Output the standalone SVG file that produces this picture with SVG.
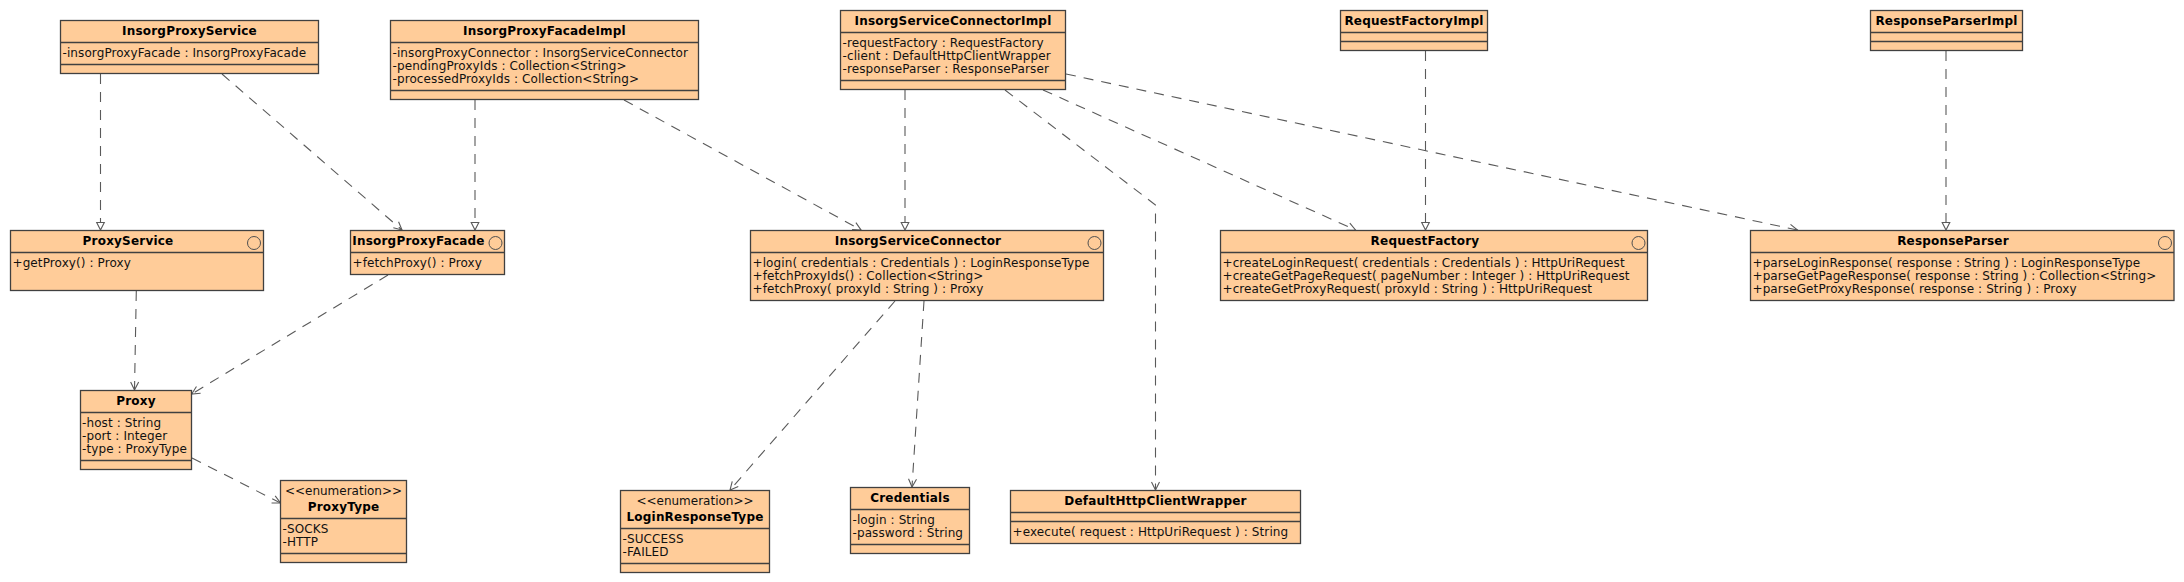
<svg xmlns="http://www.w3.org/2000/svg" width="2184" height="582" viewBox="0 0 2184 582">
<style>
.bg{fill:#ffffff}
.box{fill:#FFCC99;stroke:#404040;stroke-width:1.3}
.sep{stroke:#404040;stroke-width:1.3}
.ic{fill:none;stroke:#505050;stroke-width:1}
text{font-family:"DejaVu Sans","Liberation Sans",sans-serif;font-size:12px;letter-spacing:0.1px;fill:#111}
.ti{font-weight:bold;text-anchor:middle;letter-spacing:0.2px;fill:#000}
.st{text-anchor:middle;letter-spacing:0}
.edge{fill:none;stroke:#5a5a5a;stroke-width:1.1;stroke-dasharray:10 8}
.dep{marker-end:url(#open)}
.real{marker-end:url(#tri)}
</style>
<defs>
<marker id="open" markerUnits="userSpaceOnUse" viewBox="-10 -6 12 12" refX="0" refY="0" markerWidth="12" markerHeight="12" orient="auto">
<path d="M-8,-4 L0,0 L-8,4" fill="none" stroke="#5a5a5a" stroke-width="1.1" stroke-dasharray="none"/>
</marker>
<marker id="tri" markerUnits="userSpaceOnUse" viewBox="-10 -6 12 12" refX="0" refY="0" markerWidth="12" markerHeight="12" orient="auto">
<path d="M-7.5,-3.8 L0,0 L-7.5,3.8 Z" fill="#ffffff" stroke="#5a5a5a" stroke-width="1.1" stroke-dasharray="none"/>
</marker>
</defs>
<rect class="bg" x="0" y="0" width="2184" height="582"/>

<g id="connectors">
<path class="edge real" d="M100.5,74 L100.5,230"/>
<path class="edge dep" d="M222,74 L402,230"/>
<path class="edge real" d="M475,100 L475,230"/>
<path class="edge dep" d="M624,100 L861,230"/>
<path class="edge real" d="M905,90 L905,230"/>
<path class="edge dep" d="M1005,90 L1155.5,205 L1155.5,490"/>
<path class="edge dep" d="M1043,90 L1355.5,230"/>
<path class="edge dep" d="M1066,74 L1797.5,230"/>
<path class="edge real" d="M1425.5,51 L1425.5,230"/>
<path class="edge real" d="M1946,51 L1946,230"/>
<path class="edge dep" d="M136.3,291 L134.5,390"/>
<path class="edge dep" d="M388,275 L191.7,394"/>
<path class="edge dep" d="M192,458 L280.5,503"/>
<path class="edge dep" d="M895,301 L730,490"/>
<path class="edge dep" d="M924,301 L912,487"/>
</g>

<g id="InsorgProxyService">
<rect class="box" x="60.5" y="20.5" width="258" height="53"/>
<line class="sep" x1="60.5" y1="42.5" x2="318.5" y2="42.5"/>
<line class="sep" x1="60.5" y1="64.5" x2="318.5" y2="64.5"/>
<text class="ti" x="189.5" y="34.5">InsorgProxyService</text>
<text x="62.5" y="56.5">-insorgProxyFacade : InsorgProxyFacade</text>
</g>

<g id="InsorgProxyFacadeImpl">
<rect class="box" x="390.5" y="20.5" width="308" height="79"/>
<line class="sep" x1="390.5" y1="42.5" x2="698.5" y2="42.5"/>
<line class="sep" x1="390.5" y1="90.5" x2="698.5" y2="90.5"/>
<text class="ti" x="544.5" y="34.5">InsorgProxyFacadeImpl</text>
<text x="392.5" y="56.5">-insorgProxyConnector : InsorgServiceConnector</text>
<text x="392.5" y="69.5">-pendingProxyIds : Collection&lt;String&gt;</text>
<text x="392.5" y="82.5">-processedProxyIds : Collection&lt;String&gt;</text>
</g>

<g id="InsorgServiceConnectorImpl">
<rect class="box" x="840.5" y="10.5" width="225" height="79"/>
<line class="sep" x1="840.5" y1="32.5" x2="1065.5" y2="32.5"/>
<line class="sep" x1="840.5" y1="80.5" x2="1065.5" y2="80.5"/>
<text class="ti" x="953" y="24.5">InsorgServiceConnectorImpl</text>
<text x="842.5" y="46.5">-requestFactory : RequestFactory</text>
<text x="842.5" y="59.5">-client : DefaultHttpClientWrapper</text>
<text x="842.5" y="72.5">-responseParser : ResponseParser</text>
</g>

<g id="RequestFactoryImpl">
<rect class="box" x="1340.5" y="10.5" width="147" height="40"/>
<line class="sep" x1="1340.5" y1="32.5" x2="1487.5" y2="32.5"/>
<line class="sep" x1="1340.5" y1="41.5" x2="1487.5" y2="41.5"/>
<text class="ti" x="1414" y="24.5">RequestFactoryImpl</text>
</g>

<g id="ResponseParserImpl">
<rect class="box" x="1870.5" y="10.5" width="152" height="40"/>
<line class="sep" x1="1870.5" y1="32.5" x2="2022.5" y2="32.5"/>
<line class="sep" x1="1870.5" y1="41.5" x2="2022.5" y2="41.5"/>
<text class="ti" x="1946.5" y="24.5">ResponseParserImpl</text>
</g>

<g id="ProxyService">
<rect class="box" x="10.5" y="230.5" width="253" height="60"/>
<line class="sep" x1="10.5" y1="252.5" x2="263.5" y2="252.5"/>
<circle class="ic" cx="254" cy="243" r="6.5"/>
<text class="ti" x="128" y="244.5">ProxyService</text>
<text x="12.5" y="266.5">+getProxy() : Proxy</text>
</g>

<g id="InsorgProxyFacade">
<rect class="box" x="350.5" y="230.5" width="154" height="44"/>
<line class="sep" x1="350.5" y1="252.5" x2="504.5" y2="252.5"/>
<circle class="ic" cx="495.5" cy="243" r="6.5"/>
<text class="ti" x="418.5" y="244.5">InsorgProxyFacade</text>
<text x="352.5" y="266.5">+fetchProxy() : Proxy</text>
</g>

<g id="InsorgServiceConnector">
<rect class="box" x="750.5" y="230.5" width="353" height="70"/>
<line class="sep" x1="750.5" y1="252.5" x2="1103.5" y2="252.5"/>
<circle class="ic" cx="1094.5" cy="243" r="6.5"/>
<text class="ti" x="918" y="244.5">InsorgServiceConnector</text>
<text x="752.5" y="266.5">+login( credentials : Credentials ) : LoginResponseType</text>
<text x="752.5" y="279.5">+fetchProxyIds() : Collection&lt;String&gt;</text>
<text x="752.5" y="292.5">+fetchProxy( proxyId : String ) : Proxy</text>
</g>

<g id="RequestFactory">
<rect class="box" x="1220.5" y="230.5" width="427" height="70"/>
<line class="sep" x1="1220.5" y1="252.5" x2="1647.5" y2="252.5"/>
<circle class="ic" cx="1638.5" cy="243" r="6.5"/>
<text class="ti" x="1425" y="244.5">RequestFactory</text>
<text x="1222.5" y="266.5">+createLoginRequest( credentials : Credentials ) : HttpUriRequest</text>
<text x="1222.5" y="279.5">+createGetPageRequest( pageNumber : Integer ) : HttpUriRequest</text>
<text x="1222.5" y="292.5">+createGetProxyRequest( proxyId : String ) : HttpUriRequest</text>
</g>

<g id="ResponseParser">
<rect class="box" x="1750.5" y="230.5" width="423.5" height="70"/>
<line class="sep" x1="1750.5" y1="252.5" x2="2174" y2="252.5"/>
<circle class="ic" cx="2165" cy="243" r="6.5"/>
<text class="ti" x="1953" y="244.5">ResponseParser</text>
<text x="1752.5" y="266.5">+parseLoginResponse( response : String ) : LoginResponseType</text>
<text x="1752.5" y="279.5">+parseGetPageResponse( response : String ) : Collection&lt;String&gt;</text>
<text x="1752.5" y="292.5">+parseGetProxyResponse( response : String ) : Proxy</text>
</g>

<g id="Proxy">
<rect class="box" x="80.5" y="390.5" width="111" height="79"/>
<line class="sep" x1="80.5" y1="412.5" x2="191.5" y2="412.5"/>
<line class="sep" x1="80.5" y1="460.5" x2="191.5" y2="460.5"/>
<text class="ti" x="136" y="404.5">Proxy</text>
<text x="82" y="426.5">-host : String</text>
<text x="82" y="439.5">-port : Integer</text>
<text x="82" y="452.5">-type : ProxyType</text>
</g>

<g id="ProxyType">
<rect class="box" x="280.5" y="480.5" width="126" height="82"/>
<line class="sep" x1="280.5" y1="518.5" x2="406.5" y2="518.5"/>
<line class="sep" x1="280.5" y1="553.5" x2="406.5" y2="553.5"/>
<text class="st" x="343.5" y="494.5">&lt;&lt;enumeration&gt;&gt;</text>
<text class="ti" x="343.5" y="510.5">ProxyType</text>
<text x="282.5" y="532.5">-SOCKS</text>
<text x="282.5" y="545.5">-HTTP</text>
</g>

<g id="LoginResponseType">
<rect class="box" x="620.5" y="490.5" width="149" height="82"/>
<line class="sep" x1="620.5" y1="528.5" x2="769.5" y2="528.5"/>
<line class="sep" x1="620.5" y1="563.5" x2="769.5" y2="563.5"/>
<text class="st" x="695" y="504.5">&lt;&lt;enumeration&gt;&gt;</text>
<text class="ti" x="695" y="520.5">LoginResponseType</text>
<text x="622.5" y="542.5">-SUCCESS</text>
<text x="622.5" y="555.5">-FAILED</text>
</g>

<g id="Credentials">
<rect class="box" x="850.5" y="487.5" width="119" height="66"/>
<line class="sep" x1="850.5" y1="509.5" x2="969.5" y2="509.5"/>
<line class="sep" x1="850.5" y1="544.5" x2="969.5" y2="544.5"/>
<text class="ti" x="910" y="501.5">Credentials</text>
<text x="852.5" y="523.5">-login : String</text>
<text x="852.5" y="536.5">-password : String</text>
</g>

<g id="DefaultHttpClientWrapper">
<rect class="box" x="1010.5" y="490.5" width="290" height="53"/>
<line class="sep" x1="1010.5" y1="512.5" x2="1300.5" y2="512.5"/>
<line class="sep" x1="1010.5" y1="521.5" x2="1300.5" y2="521.5"/>
<text class="ti" x="1155.5" y="504.5">DefaultHttpClientWrapper</text>
<text x="1012.5" y="535.5">+execute( request : HttpUriRequest ) : String</text>
</g>
</svg>
